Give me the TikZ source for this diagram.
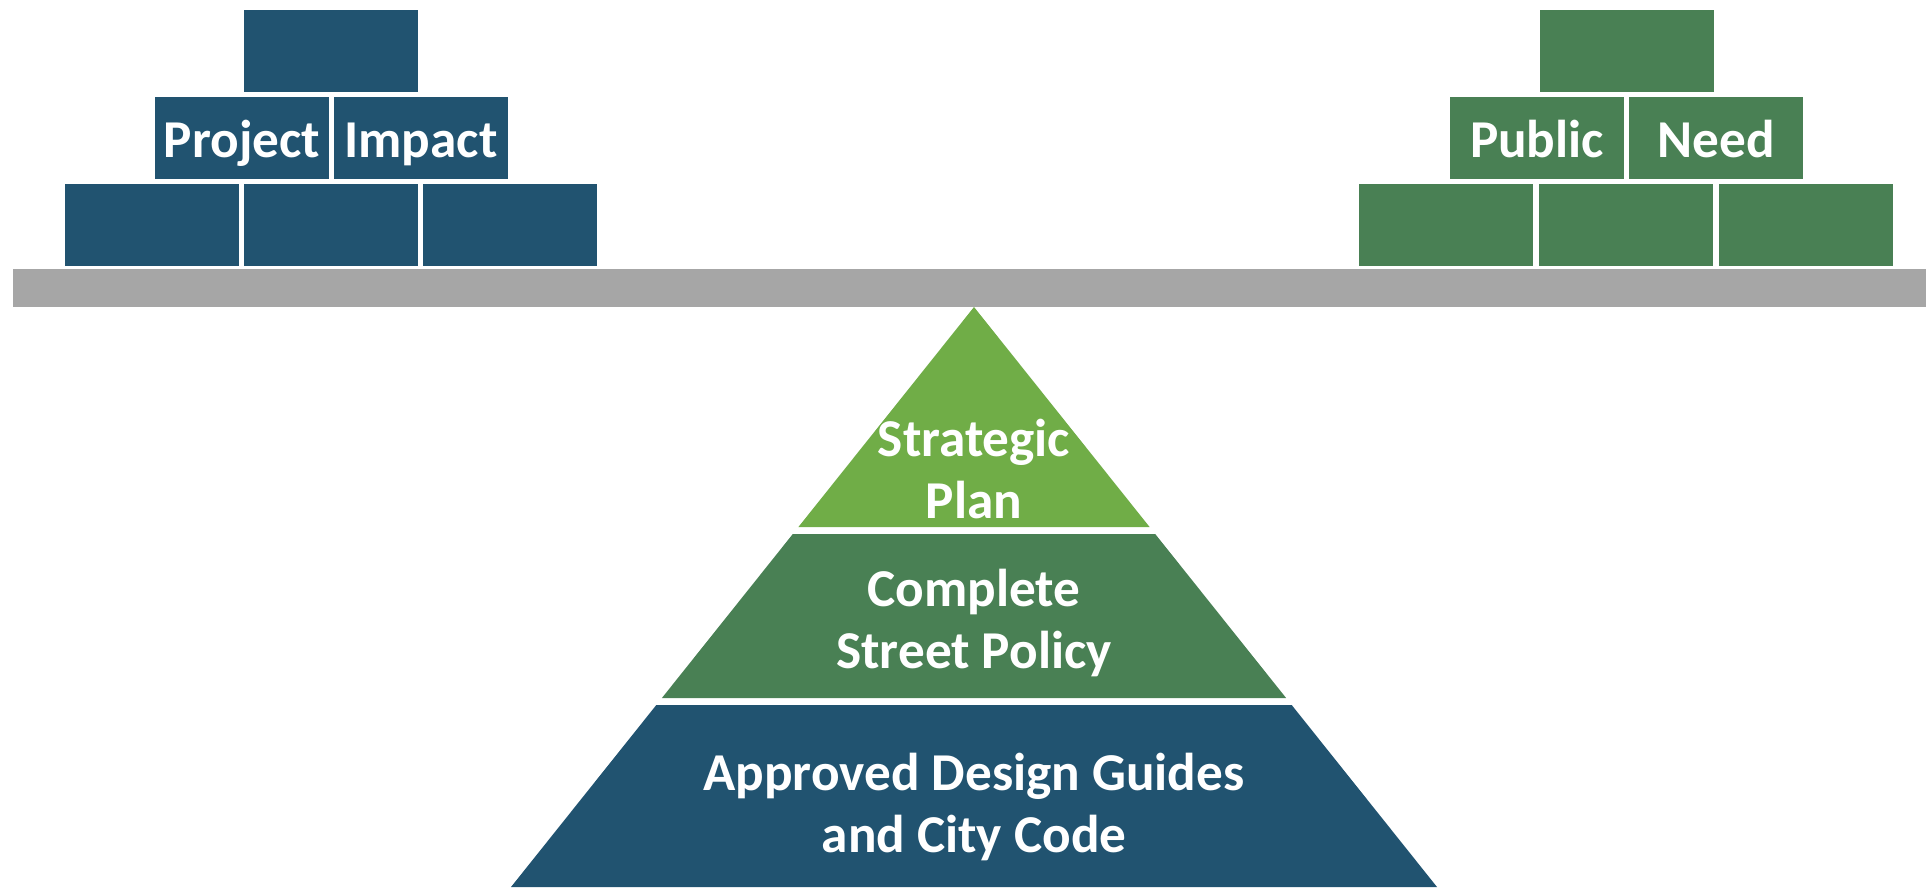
\documentclass[tikz,border=0pt]{standalone}
\usepackage{fontspec}
\setmainfont{Carlito}
\definecolor{impblue}{RGB}{33,83,112}
\definecolor{needgreen}{RGB}{73,128,84}
\definecolor{plangreen}{RGB}{112,173,71}
\definecolor{beamgray}{RGB}{166,166,166}

\begin{document}
\begin{tikzpicture}[x=0.02cm,y=-0.02cm,every node/.style={font=\fontsize{30.3}{35.5}\selectfont\bfseries,text=white}]
\tikzstyle{brick}=[inner sep=0pt,outer sep=0pt,minimum width=3.48cm,minimum height=1.64cm,text height=0.92cm,text depth=0.16cm];
\tikzstyle{cost}=[brick,fill=impblue];
\tikzstyle{need}=[brick,fill=needgreen];
\tikzstyle{tier}=[align=center,inner sep=0pt];
\useasboundingbox (0,0) rectangle (1926,887);

% left stack
\node [cost] (c1) at (331,51) {};
\node [cost] (c2) at (242,138) {Project};
\node [cost] (c3) at (421,138) {Impact};
\node [cost] (c4) at (152,225) {};
\node [cost] (c5) at (331,225) {};
\node [cost] (c6) at (510,225) {};

% right stack
\node [need] (n1) at (1627,51) {};
\node [need] (n2) at (1537,138) {Public};
\node [need] (n3) at (1716,138) {Need};
\node [need] (n4) at (1446,225) {};
\node [need] (n5) at (1626,225) {};
\node [need] (n6) at (1806,225) {};

% beam
\node [fill=beamgray,inner sep=0pt,minimum width=38.26cm,minimum height=0.76cm] (beam) at (969.5,288) {};

% pyramid
\fill [plangreen] (974,307) -- (1149.6,527) -- (798.4,527) -- cycle;
\fill [needgreen] (792.8,534) -- (1155.2,534) -- (1286.1,698) -- (661.9,698) -- cycle;
\fill [impblue] (656.3,705) -- (1291.7,705) -- (1437,887) -- (511,887) -- cycle;

\node [tier] (t1) at (974,469) {Strategic\\Plan};
\node [tier] (t2) at (974,623) {Complete\\Street Policy};
\node [tier] (t3) at (974,807) {Approved Design Guides\\and City Code};
\end{tikzpicture}
\end{document}
